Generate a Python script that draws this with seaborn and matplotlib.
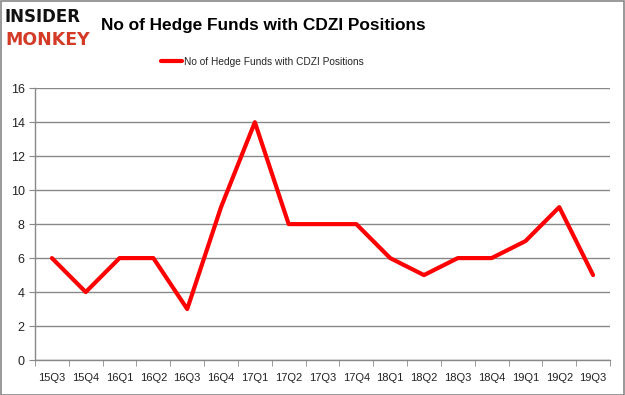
import matplotlib
matplotlib.use("Agg")
import matplotlib.pyplot as plt
import seaborn as sns
import pandas as pd
from matplotlib.lines import Line2D

quarters = ["15Q3", "15Q4", "16Q1", "16Q2", "16Q3", "16Q4", "17Q1", "17Q2", "17Q3",
            "17Q4", "18Q1", "18Q2", "18Q3", "18Q4", "19Q1", "19Q2", "19Q3"]
funds = [6, 4, 6, 6, 3, 9, 14, 8, 8, 8, 6, 5, 6, 6, 7, 9, 5]
series_name = "No of Hedge Funds with CDZI Positions"
title = "No of Hedge Funds with CDZI Positions"
yticks = [0, 2, 4, 6, 8, 10, 12, 14, 16]

sns.set_style("white")
plt.rcParams['font.family'] = ['Liberation Sans', 'DejaVu Sans']

df = pd.DataFrame({"q": range(len(quarters)), "n": funds})

fig = plt.figure(figsize=(6.25, 3.95), dpi=100)
ax = fig.add_axes([0.056, 0.0886, 0.92, 0.688])
sns.lineplot(data=df, x="q", y="n", ax=ax, color="#ff0000", linewidth=3,
             label=series_name, legend=False)

ax.set_xlim(-0.5, len(quarters) - 0.5)
ax.set_ylim(0, 16)
ax.set_yticks(yticks)
ax.set_xticks(range(len(quarters)))
ax.set_xticklabels(quarters)
ax.set_xticks([i - 0.5 for i in range(len(quarters) + 1)], minor=True)
ax.tick_params(axis='x', which='major', length=0, labelsize=8, pad=9, colors="#222222")
ax.tick_params(axis='x', which='minor', length=4, color="#888888", direction='out', bottom=True)
ax.tick_params(axis='y', which='major', length=4, labelsize=9, labelcolor="#222222",
               color="#888888", left=True)
ax.yaxis.grid(True, color="#888888", linewidth=1)
ax.set_axisbelow(True)
for s in ["top", "right"]:
    ax.spines[s].set_visible(False)
for s in ["left", "bottom"]:
    ax.spines[s].set_color("#888888")
    ax.spines[s].set_linewidth(1)
ax.set_xlabel("")
ax.set_ylabel("")

fig.text(0.161, 0.935, title, fontsize=12.4, fontweight="bold", va="center", ha="left",
         color="#000000")
fig.text(0.008, 0.958, "INSIDER", fontsize=12, fontweight="bold", color="#111111", va="center",
         family=["DejaVu Sans"])
fig.text(0.008, 0.898, "MONKEY", fontsize=12.5, fontweight="bold", color="#d33b27", va="center",
         family=["DejaVu Sans"])

h = [Line2D([0], [0], color="#ff0000", linewidth=3)]
fig.legend(h, [series_name], loc="center", bbox_to_anchor=(0.42, 0.843), frameon=False,
           fontsize=7.3, handlelength=2.0, handletextpad=0.2)

fig.patches.append(plt.Rectangle((0.001, 0.001), 0.997, 0.997, transform=fig.transFigure,
                                 fill=False, edgecolor="#888888", linewidth=1.2))
fig.savefig("out.png", dpi=100)
